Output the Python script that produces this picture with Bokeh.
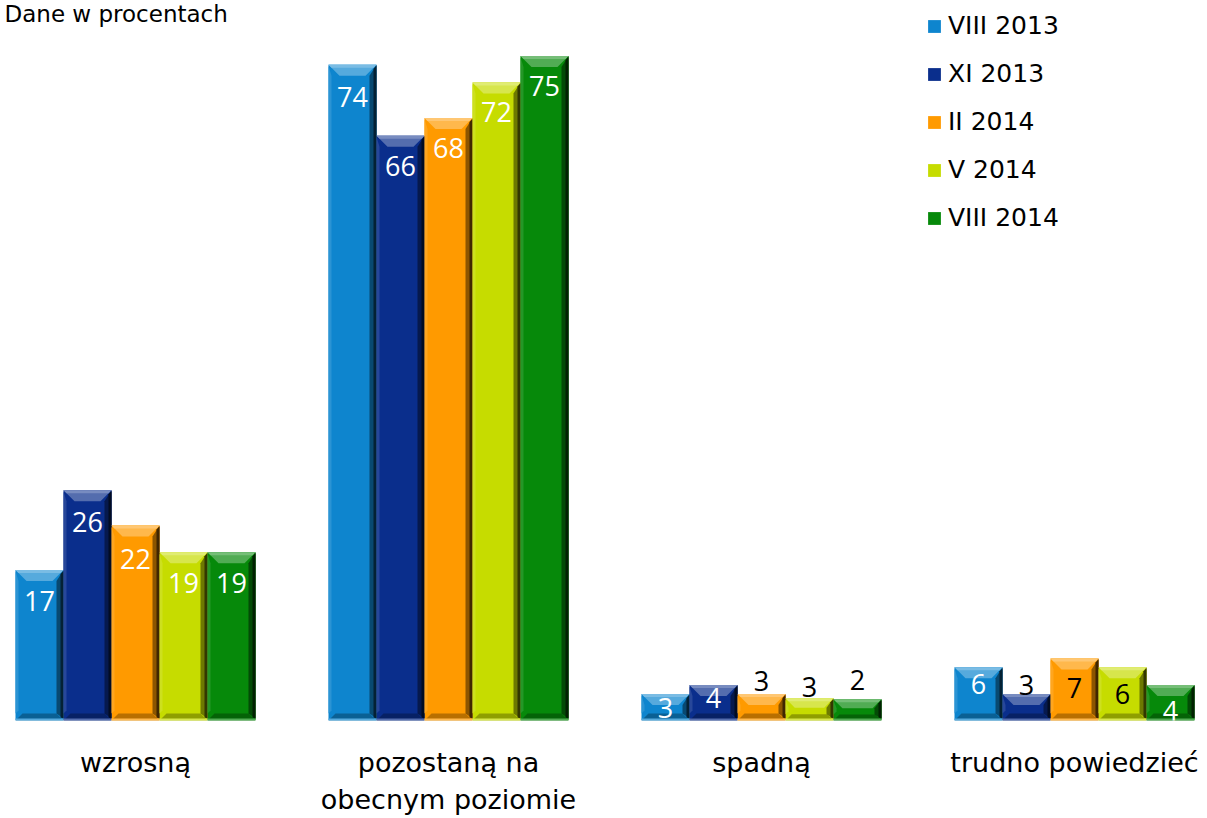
import numpy as np
from bokeh.plotting import figure
from bokeh.models import (ColumnDataSource, Range1d, FixedTicker, Legend,
                          LegendItem, Label)
from bokeh.core.properties import value
from bokeh.embed import file_html
from bokeh.resources import INLINE

# ---------------- data ----------------
categories = ["wzrosną", "pozostaną na\nobecnym poziomie", "spadną", "trudno powiedzieć"]
series = ["VIII 2013", "XI 2013", "II 2014", "V 2014", "VIII 2014"]
viii_2013 = [17, 74, 3, 6]
xi_2013 = [26, 66, 4, 3]
ii_2014 = [22, 68, 3, 7]
v_2014 = [19, 72, 2.5, 6]
viii_2014 = [19, 75, 2.4, 4]
values = [viii_2013, xi_2013, ii_2014, v_2014, viii_2014]

# ---------------- styles ----------------
base_colors = ["#0E85CE", "#0A2E8C", "#FF9A00", "#C6DC00", "#06890A"]
label_colors = [
    ["white", "white", "white", "white"],
    ["white", "white", "white", "black"],
    ["white", "white", "black", "black"],
    ["white", "white", "black", "black"],
    ["white", "white", "black", "white"],
]
# label centre offset below bar top, pixels (negative = above bar)
label_dy = [
    [31, 32, 14, 17],
    [32, 30, 13, -9],
    [33, 30, -13, 30],
    [31, 29, -11, 27],
    [31, 30, -19, 26],
]

W, FH = 1200, 720
PX_PER_UNIT = 8.86
GROUP_PX = 313.0
BAR_PX = 48.0
x_start = -135.0 / GROUP_PX
x_end = x_start + W / GROUP_PX
y_end = FH / PX_PER_UNIT
xu = 1.0 / GROUP_PX
yu = 1.0 / PX_PER_UNIT
bw = BAR_PX * xu


def mix(hexc, target, f):
    h = hexc.lstrip("#")
    r, g, b = int(h[0:2], 16), int(h[2:4], 16), int(h[4:6], 16)
    r = int(round(r + (target - r) * f))
    g = int(round(g + (target - g) * f))
    b = int(round(b + (target - b) * f))
    return "#%02x%02x%02x" % (r, g, b)


p = figure(frame_width=W, frame_height=FH,
           x_range=Range1d(x_start, x_end), y_range=Range1d(0, y_end),
           output_backend="svg", toolbar_location=None, y_axis_location=None,
           min_border_left=0, min_border_right=0, min_border_top=0, min_border_bottom=0)
p.outline_line_color = None
p.xgrid.visible = False
p.ygrid.visible = False
p.background_fill_color = "white"
p.border_fill_color = "white"

quad_renderers = []
pxs, pys, pcs = [], [], []
lx, ly, lt, lc, ld = [], [], [], [], []

for j, vals in enumerate(values):
    xc = [i + (j - 2) * bw for i in range(len(categories))]
    src = ColumnDataSource(dict(left=[x - bw / 2 for x in xc],
                                right=[x + bw / 2 for x in xc],
                                top=vals, bottom=[0] * len(vals)))
    r = p.quad(left="left", right="right", top="top", bottom="bottom", source=src,
               fill_color=base_colors[j], line_color=None)
    quad_renderers.append(r)

    light = mix(base_colors[j], 255, 0.30)
    lighter = mix(base_colors[j], 255, 0.45)
    dark = mix(base_colors[j], 0, 0.45)
    deep = mix(base_colors[j], 0, 0.75)
    botc = mix(base_colors[j], 0, 0.28)
    for i, v in enumerate(vals):
        x0, x1 = xc[i] - bw / 2, xc[i] + bw / 2
        hp = v * PX_PER_UNIT
        tb = min(11.0, 0.42 * hp)
        bb = min(7.0, 0.28 * hp)
        # top bevel
        pxs.append([x0, x1, x1 - tb * xu, x0 + tb * xu]); pys.append([v, v, v - tb * yu, v - tb * yu]); pcs.append(light)
        pxs.append([x0, x1, x1 - 3 * xu, x0 + 3 * xu]); pys.append([v, v, v - 3 * yu, v - 3 * yu]); pcs.append(lighter)
        # bottom bevel
        pxs.append([x0, x1, x1 - bb * xu, x0 + bb * xu]); pys.append([0, 0, bb * yu, bb * yu]); pcs.append(botc)
        pxs.append([x0, x1, x1, x0]); pys.append([0, 0, 2 * yu, 2 * yu]); pcs.append(light)
        # left light strip
        pxs.append([x0, x0 + 3 * xu, x0 + 3 * xu, x0]); pys.append([bb * yu, bb * yu + 3 * yu, v - tb * yu, v - 1 * yu]); pcs.append(mix(base_colors[j], 255, 0.12))
        # right dark strips
        pxs.append([x1, x1, x1 - 7 * xu, x1 - 7 * xu]); pys.append([2 * yu, v, v - tb * yu, bb * yu]); pcs.append(dark)
        pxs.append([x1, x1, x1 - 3 * xu, x1 - 3 * xu]); pys.append([2 * yu, v - 1 * yu, v - 4 * yu, 3 * yu]); pcs.append(deep)
        # labels
        lx.append(xc[i]); ly.append(v); lt.append(str(int(v + 0.5)))
        lc.append(label_colors[j][i]); ld.append(label_dy[j][i])

p.patches(xs="xs", ys="ys", fill_color="c", line_color=None,
          source=ColumnDataSource(dict(xs=pxs, ys=pys, c=pcs)))

p.text(x="x", y="y", text="t", text_color="c", y_offset="d",
       source=ColumnDataSource(dict(x=lx, y=ly, t=lt, c=lc, d=ld)),
       text_align="center", text_baseline="middle",
       text_font=value("Open Sans"), text_font_size="27px")

# x axis with category labels
p.xaxis.ticker = FixedTicker(ticks=list(range(len(categories))))
p.xaxis.major_label_overrides = {i: c for i, c in enumerate(categories)}
p.xaxis.axis_line_color = None
p.xaxis.major_tick_line_color = None
p.xaxis.minor_tick_line_color = None
p.xaxis.major_tick_out = 0
p.xaxis.major_tick_in = 0
p.xaxis.major_label_standoff = 26
p.xaxis.major_label_text_font = "DejaVu Sans"
p.xaxis.major_label_text_font_size = "27px"
p.xaxis.major_label_text_color = "black"

legend = Legend(items=[LegendItem(label=s, renderers=[quad_renderers[j]]) for j, s in enumerate(series)],
                location=(926, 488), orientation="vertical",
                label_text_font="DejaVu Sans", label_text_font_size="25px",
                label_text_color="black",
                glyph_width=16, glyph_height=16, label_height=28, spacing=19,
                padding=0, margin=0, border_line_color=None, background_fill_alpha=0,
                label_standoff=6)
p.add_layout(legend)

p.add_layout(Label(x=x_start, y=y_end, text="Dane w procentach", text_baseline="top",
                   text_align="left", text_font="DejaVu Sans", text_font_size="23px",
                   text_color="black", x_offset=4))

open("out.html", "w").write(file_html(p, INLINE))
